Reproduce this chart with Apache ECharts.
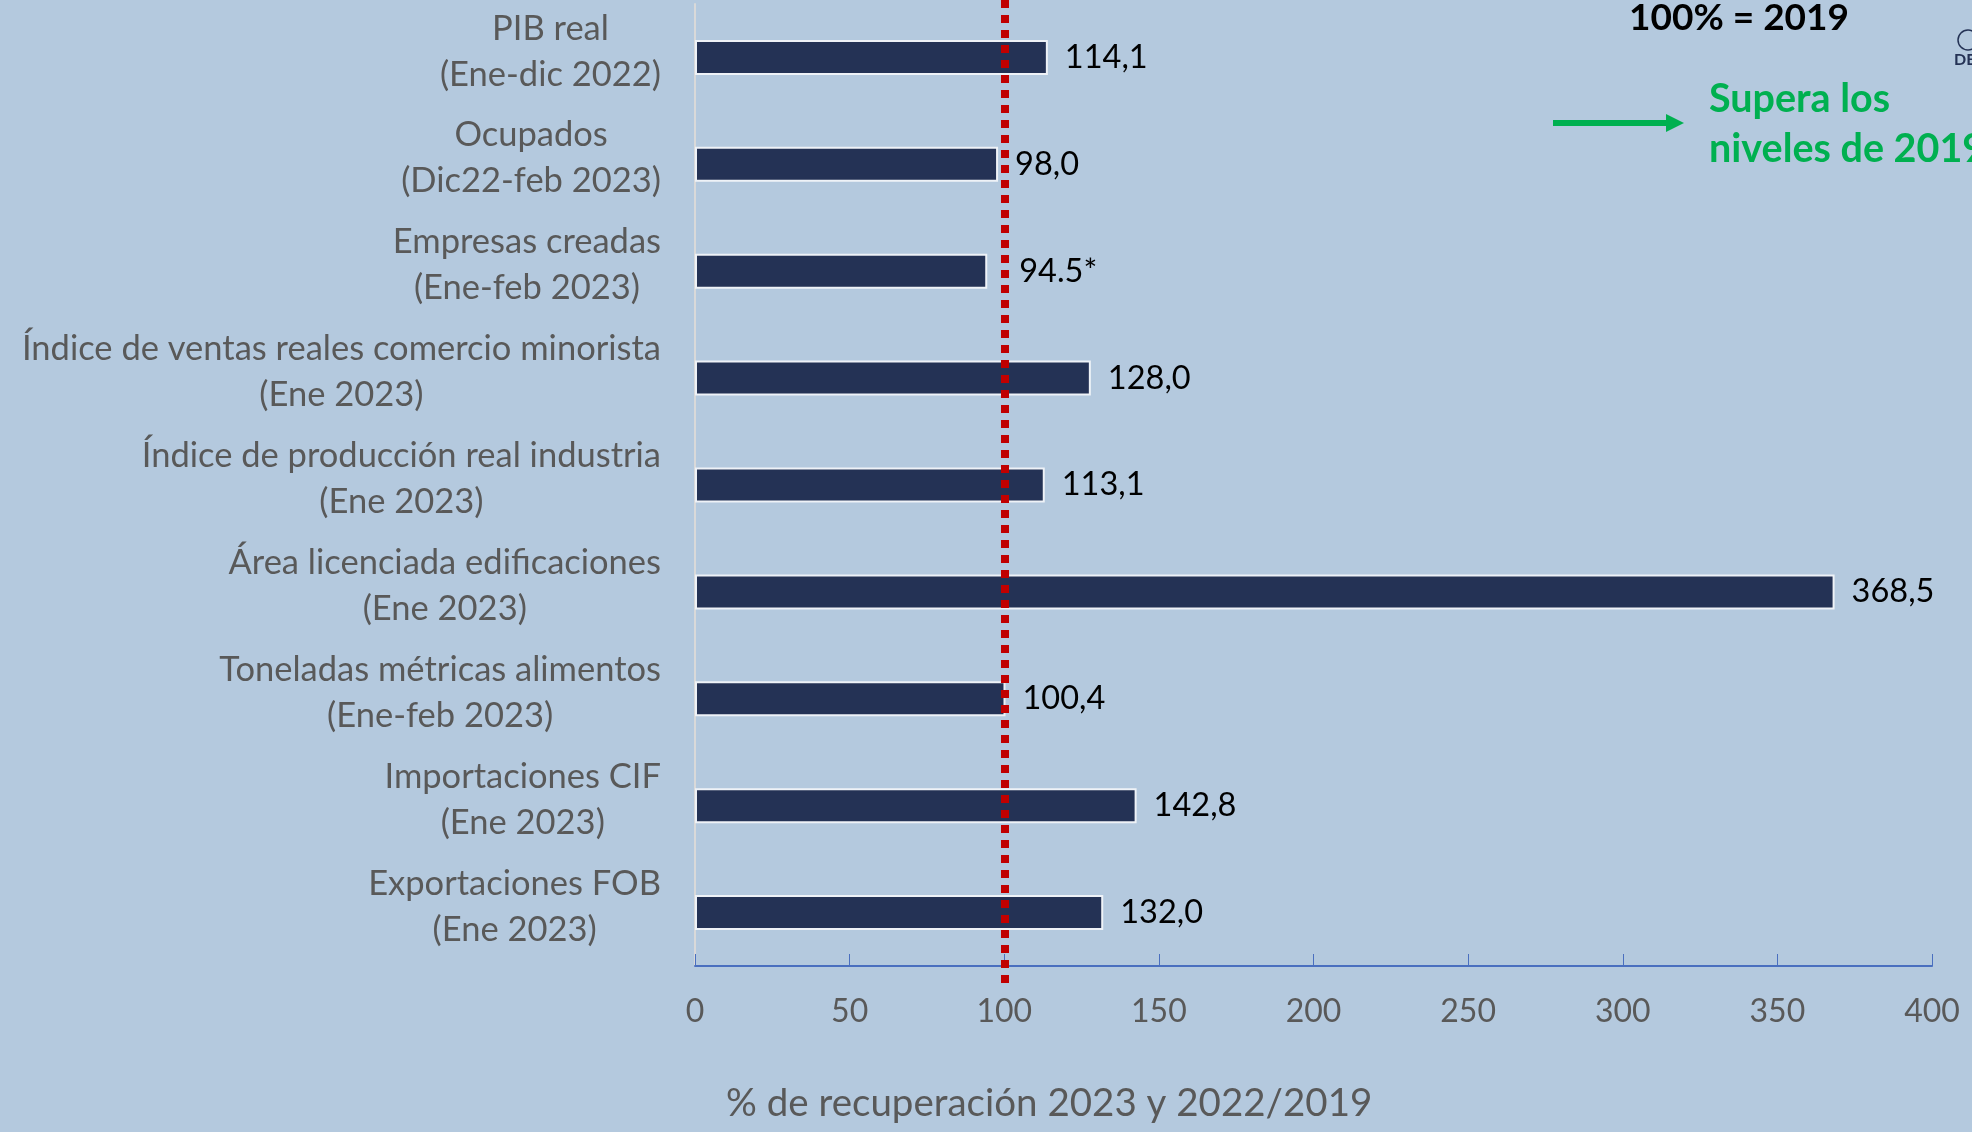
<!DOCTYPE html>
<html>
<head>
<meta charset="utf-8">
<script src="https://cdn.jsdelivr.net/npm/echarts@6/dist/echarts.min.js"></script>
<style>
  html, body { margin: 0; padding: 0; background: #b4c9de; }
  #chart { width: 1972px; height: 1132px; }
</style>
</head>
<body>
<div id="chart"></div>
<script>
// indicadores (de arriba hacia abajo)
var categories = [
  'PIB real\n(Ene-dic 2022)',
  'Ocupados\n(Dic22-feb 2023)',
  'Empresas creadas\n(Ene-feb 2023)',
  'Índice de ventas reales comercio minorista\n(Ene 2023)',
  'Índice de producción real industria\n(Ene 2023)',
  'Área licenciada edificaciones\n(Ene 2023)',
  'Toneladas métricas alimentos\n(Ene-feb 2023)',
  'Importaciones CIF\n(Ene 2023)',
  'Exportaciones FOB\n(Ene 2023)'
]
var values = [114.1, 98.0, 94.5, 128.0, 113.1, 368.5, 100.4, 142.8, 132.0]
var valueLabels = ['114,1', '98,0', '94.5*', '128,0', '113,1', '368,5', '100,4', '142,8', '132,0']
var xTicks = [0, 50, 100, 150, 200, 250, 300, 350, 400]
var baseLevel = 100 // 100% = 2019

var font = 'Lato, "Open Sans", sans-serif'
var myChart = echarts.init(document.getElementById('chart'))

var barData = values.map(function (v, i) {
  return {
    value: v,
    label: {
      formatter: valueLabels[i],
      distance: valueLabels[i].indexOf('*') >= 0 ? 32 : 17
    }
  }
})

myChart.setOption({
  backgroundColor: '#b4c9de',
  animation: false,
  grid: { left: 695, right: 40, top: 4, bottom: 166 },
  xAxis: {
    type: 'value',
    min: xTicks[0],
    max: xTicks[xTicks.length - 1],
    interval: xTicks[1] - xTicks[0],
    axisLine: { show: true, lineStyle: { color: '#4a6fbf', width: 2 } },
    axisTick: { show: true, inside: true, length: 12, lineStyle: { color: '#4a6fbf', width: 1 } },
    splitLine: { show: false },
    axisLabel: { margin: 30, color: '#595959', fontSize: 32, fontFamily: font }
  },
  yAxis: {
    type: 'category',
    inverse: true,
    data: categories,
    axisLine: { show: true, lineStyle: { color: '#d9d9d9', width: 2 } },
    axisTick: { show: false },
    axisLabel: {
      margin: 34,
      padding: [0, 0, 12, 0],
      formatter: function (v) {
        return v.split('\n').map(function (l) { return '{c|' + l + '}' }).join('\n')
      },
      rich: {
        c: { align: 'center', color: '#595959', fontSize: 34.5, fontFamily: font, lineHeight: 46 }
      }
    }
  },
  series: [
    {
      type: 'bar',
      data: barData,
      barWidth: 35,
      itemStyle: { color: '#243255', borderColor: '#eef2f7', borderWidth: 2 },
      label: { show: true, position: 'right', color: '#000', fontSize: 32.5, fontFamily: font },
      markLine: {
        silent: true,
        symbol: ['none', 'none'],
        label: { show: false },
        lineStyle: { color: '#c00000', width: 8, type: [8, 7] },
        data: [[{ xAxis: baseLevel, y: 0 }, { xAxis: baseLevel, y: 990 }]]
      }
    }
  ],
  graphic: [
    {
      type: 'text', left: 726, top: 1084,
      style: { text: '% de recuperación 2023 y 2022/2019', fill: '#595959', font: '38.5px ' + font }
    },
    {
      type: 'text', left: 1629, top: 0,
      style: { text: '100% = 2019', fill: '#000', font: 'bold 37px ' + font }
    },
    {
      type: 'line',
      shape: { x1: 1553, y1: 123, x2: 1668, y2: 123 },
      style: { stroke: '#00b050', lineWidth: 6 }
    },
    {
      type: 'polygon',
      shape: { points: [[1666, 114], [1684, 123], [1666, 132]] },
      style: { fill: '#00b050' }
    },
    {
      type: 'text', left: 1709, top: 74,
      style: { text: 'Supera los\nniveles de 2019', fill: '#00b050', font: 'bold 39.5px ' + font, lineHeight: 50 }
    },
    {
      type: 'circle',
      shape: { cx: 1968, cy: 40, r: 10 },
      style: { fill: 'none', stroke: '#243255', lineWidth: 1.5 }
    },
    {
      type: 'text', left: 1954, top: 52,
      style: { text: 'DE', fill: '#243255', font: 'bold 16px ' + font }
    }
  ]
})
</script>
</body>
</html>
